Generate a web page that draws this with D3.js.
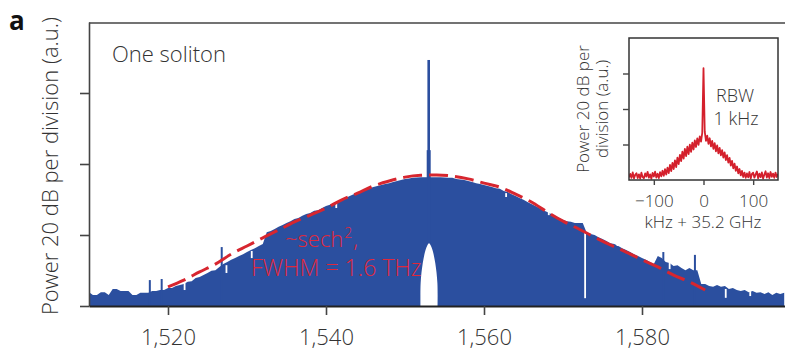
<!DOCTYPE html>
<html>
<head>
<meta charset="utf-8">
<script src="https://cdn.jsdelivr.net/npm/d3@7"></script>
<style>
  body { margin: 0; background: #fff; }
  svg { display: block; }
  text { font-family: "Open Sans", "DejaVu Sans", sans-serif; font-weight: 300; }
</style>
</head>
<body>
<svg id="chart" width="785" height="350"></svg>
<script>
// ---- Main optical spectrum (power in dB above the floor of the plot) ----
const spectrumStartNm = 1510;
const spectrumStepNm = 0.5;
const spectrumDb = [
  3.9, 3.1, 3.1, 3.9, 3.9, 3.1, 4.8, 4.8, 4.2, 4.2,          // 1510 – 1514.5
  4.2, 3.1, 3.1, 3.7, 3.7, 3.7, 4.2, 4.2, 4.5, 4.5,          // 1515 – 1519.5
  5.1, 5.1, 5.6, 5.9, 6.2, 6.8, 7.0, 7.9, 8.2, 8.7,          // 1520 – 1524.5
  9.3, 9.9, 10.1, 11.0, 11.8, 12.4, 13.0, 13.5, 14.1, 14.6,  // 1525 – 1529.5
  15.2, 15.8, 16.3, 16.9, 17.5, 20.8, 21.1, 21.7, 22.3, 22.8,// 1530 – 1534.5
  23.4, 23.9, 24.5, 24.8, 25.4, 25.9, 26.2, 26.8, 27.0, 27.6,// 1535 – 1539.5
  28.2, 28.5, 29.0, 29.6, 30.1, 30.4, 31.0, 31.5, 31.8, 32.4,// 1540 – 1544.5
  32.7, 33.2, 33.5, 33.8, 34.1, 34.4, 34.6, 34.9, 35.2, 35.5,// 1545 – 1549.5
  35.8, 35.9, 36.1, 36.2, 36.3, 36.3, 36.3, 36.3, 36.3, 36.3,// 1550 – 1554.5
  36.2, 36.1, 36.1, 35.8, 35.6, 35.5, 35.2, 34.9, 34.6, 34.4,// 1555 – 1559.5
  34.1, 33.8, 33.5, 33.2, 33.0, 32.4, 32.1, 31.5, 31.0, 30.4,// 1560 – 1564.5
  29.9, 29.3, 28.7, 28.2, 27.6, 27.0, 26.5, 25.9, 25.4, 24.8,// 1565 – 1569.5
  24.2, 23.9, 23.7, 23.4, 23.4, 23.4, 20.6, 20.3, 20.0, 19.4,// 1570 – 1574.5
  18.9, 18.3, 17.7, 17.5, 16.9, 16.3, 15.8, 15.2, 14.6, 14.1,// 1575 – 1579.5
  13.5, 13.0, 12.4, 11.8, 14.1, 13.5, 12.4, 12.1, 11.3, 11.5,// 1580 – 1584.5
  10.7, 10.1, 10.7, 10.1, 10.1, 6.2, 6.2, 5.6, 5.4, 5.9,     // 1585 – 1589.5
  5.4, 5.6, 4.8, 5.1, 4.5, 4.2, 4.5, 3.9, 4.2, 3.7,          // 1590 – 1594.5
  3.9, 3.4, 3.9, 3.1, 3.7, 3.4, 3.7                          // 1595 – 1598
];

// Narrow comb-line spurs standing above the envelope: [wavelength nm, dB]
const spurs = [
  [1517.7, 7.3], [1519.2, 7.6], [1526.8, 16.6], [1582.7, 15.2], [1586.7, 14.4]
];
// Pump line
const pumpNm = 1553.0;
const pumpDb = 69.3;
const pumpBaseDb = 43.9;

// Gaps in the comb: [wavelength nm, upper dB, lower dB]
const gaps = [
  [1572.8, 20.8, 2.2], [1541.3, 29.3, 27.6], [1562.8, 31.8, 30.7],
  [1568.2, 26.8, 25.6], [1576.9, 18.3, 16.9], [1583.5, 12.4, 10.4],
  [1590.6, 4.8, 2.3], [1593.7, 4.2, 2.8], [1522.1, 7.9, 4.5],
  [1527.4, 11.5, 9.3], [1530.6, 15.5, 13.5]
];

// Pump-suppression filter notch: [wavelength nm, dB]
const notch = [
  [1551.96, 0], [1551.98, 6.5], [1552.25, 12.1], [1552.6, 15.8], [1552.85, 17.2],
  [1553.04, 17.7], [1553.23, 17.2], [1553.48, 15.8], [1553.83, 12.1], [1554.1, 6.5], [1554.12, 0]
];

// sech^2 envelope fit: [wavelength nm, dB]
const fitNm = [1520, 1522, 1524, 1526, 1528, 1530, 1532, 1534, 1536, 1538, 1540, 1542,
  1544, 1546, 1548, 1550, 1552, 1554, 1556, 1558, 1560, 1562, 1564, 1566, 1568, 1570,
  1572, 1574, 1576, 1578, 1580, 1582, 1584, 1586, 1588];
const fitDb = [5.4, 7.3, 9.6, 11.8, 14.6, 16.9, 19.2, 21.4, 23.7, 25.6, 27.6, 29.9,
  31.8, 33.8, 35.2, 36.3, 36.8, 36.9, 36.6, 35.8, 34.6, 33.5, 31.5, 29.3, 26.5, 23.9,
  21.7, 19.4, 17.2, 15.2, 13.0, 11.0, 8.7, 6.8, 4.5];

const xTicks = [1520, 1540, 1560, 1580];
const yTicksDb = [0, 20, 40, 60];

// ---- Inset: repetition-rate beat note ----
const insetStartKhz = -150;
const insetStepKhz = 2.5;
const insetDb = [
  1.5, 3.4, 1.2, 4.3, 0.9, 2.9, 3.8, 1.1, 3.2, 0.8,     // -150 … -127.5
  4.1, 1.6, 1.0, 3.7, 1.9, 4.6, 1.3, 3.2, 0.7, 4.0,     // -125 … -102.5
  2.0, 4.7, 1.4, 3.5, 1.1, 4.4, 2.1, 5.2, 2.4, 6.1,     // -100 … -77.5
  3.1, 7.0, 3.9, 8.5, 5.0, 9.7, 6.2, 11.1, 7.3, 12.6,   // -75 … -52.5
  9.0, 14.2, 10.6, 16.0, 12.1, 17.5, 13.4, 18.8, 14.6, 19.9, // -50 … -27.5
  15.9, 21.1, 17.2, 22.3, 18.6, 23.4, 19.8, 24.6, 21.6, 26.6, // -25 … -2.5
  63.0,                                                  // 0
  27.2, 22.1, 25.0, 20.4, 23.5, 18.9, 22.0, 17.5, 20.8, 16.2, // 2.5 … 25
  19.5, 15.0, 18.1, 13.9, 16.8, 12.6, 15.6, 11.2, 14.0, 9.8,  // 27.5 … 50
  12.4, 8.1, 10.8, 6.6, 9.2, 5.2, 7.6, 3.8, 6.2, 2.6,   // 52.5 … 75
  5.1, 1.7, 4.2, 1.2, 3.7, 1.5, 4.5, 0.9, 3.4, 4.1,     // 77.5 … 100
  1.3, 3.2, 4.8, 1.0, 3.6, 1.6, 4.3, 0.8, 3.0, 4.9,     // 102.5 … 125
  1.4, 3.8, 1.1, 4.5, 1.8, 3.6, 1.2, 4.2, 1.7, 3.4      // 127.5 … 150
];
const insetXTicks = [-100, 0, 100];
const insetYTicksDb = [20, 40, 60];

// ---------------------------------------------------------------
const BLUE = "#2b4f9f";
const RED = "#d7262f";
const TEXT = "#333";
const AXIS = "#444";

const svg = d3.select("#chart");

const x = d3.scaleLinear().domain([1510, 1600]).range([89, 800]);
const y = d3.scaleLinear().domain([0, 80]).range([306, 22]);

const spectrum = spectrumDb.map((v, i) => [spectrumStartNm + i * spectrumStepNm, v]);

svg.append("defs").append("clipPath").attr("id", "mainClip")
  .append("rect").attr("x", 89).attr("y", 22).attr("width", 700).attr("height", 284);

const plot = svg.append("g").attr("clip-path", "url(#mainClip)");

// Filled comb spectrum
plot.append("path")
  .datum(spectrum)
  .attr("fill", BLUE)
  .attr("d", d3.area().x(d => x(d[0])).y0(y(0)).y1(d => y(d[1])));

// Spurs
plot.selectAll("rect.spur").data(spurs).join("rect")
  .attr("class", "spur")
  .attr("x", d => x(d[0]) - 1).attr("width", 2)
  .attr("y", d => y(d[1])).attr("height", d => y(0) - y(d[1]))
  .attr("fill", BLUE);

// Pump line and its broadened base
plot.append("rect")
  .attr("x", x(pumpNm) - 2).attr("width", 4)
  .attr("y", y(pumpBaseDb)).attr("height", y(0) - y(pumpBaseDb))
  .attr("fill", BLUE);
plot.append("rect")
  .attr("x", x(pumpNm) - 1.3).attr("width", 2.6)
  .attr("y", y(pumpDb)).attr("height", y(0) - y(pumpDb))
  .attr("fill", BLUE);

// Gaps between comb groups
plot.selectAll("rect.gap").data(gaps).join("rect")
  .attr("class", "gap")
  .attr("x", d => x(d[0]) - 0.9).attr("width", 1.8)
  .attr("y", d => y(d[1])).attr("height", d => y(d[2]) - y(d[1]))
  .attr("fill", "#fff");

// Filter notch at the pump
plot.append("path")
  .datum(notch)
  .attr("fill", "#fff")
  .attr("d", d3.line().x(d => x(d[0])).y(d => y(d[1])).curve(d3.curveCatmullRom));

// sech^2 fit
const fit = fitNm.map((n, i) => [n, fitDb[i]]);
plot.append("path")
  .datum(fit)
  .attr("fill", "none")
  .attr("stroke", RED)
  .attr("stroke-width", 3)
  .attr("stroke-dasharray", "19,7")
  .attr("d", d3.line().x(d => x(d[0])).y(d => y(d[1])).curve(d3.curveMonotoneX));

// Axes
const yAxis = svg.append("g")
  .attr("transform", `translate(${x(1510)},0)`)
  .call(d3.axisLeft(y).tickValues(yTicksDb).tickFormat("").tickSize(9).tickSizeOuter(0));
yAxis.select(".domain").attr("stroke", AXIS).attr("stroke-width", 1.6);
yAxis.selectAll(".tick line").attr("stroke", AXIS).attr("stroke-width", 1.6);

const xAxis = svg.append("g")
  .attr("transform", `translate(0,${y(0)})`)
  .call(d3.axisBottom(x).tickValues(xTicks).tickFormat(d3.format(",")).tickSize(9).tickSizeOuter(0).tickPadding(14));
xAxis.select(".domain").attr("stroke", "#222").attr("stroke-width", 2.2);
xAxis.selectAll(".tick line").attr("stroke", AXIS).attr("stroke-width", 1.6);
xAxis.selectAll(".tick text")
  .attr("font-family", "'Open Sans', sans-serif")
  .attr("font-size", 22).attr("fill", TEXT);

// Top frame
svg.append("line")
  .attr("x1", x(1510)).attr("x2", 785).attr("y1", 23).attr("y2", 23)
  .attr("stroke", AXIS).attr("stroke-width", 1.6);

// Axis title
svg.append("text")
  .attr("transform", "translate(58,166) rotate(-90)")
  .attr("text-anchor", "middle")
  .attr("font-size", 22).attr("fill", TEXT)
  .text("Power 20 dB per division (a.u.)");

// Panel letter
svg.append("text")
  .attr("x", 9).attr("y", 30)
  .attr("font-size", 26).style("font-weight", 700).attr("fill", "#111")
  .text("a");

svg.append("text")
  .attr("x", 112).attr("y", 62)
  .attr("font-size", 22).attr("fill", TEXT)
  .text("One soliton");

// Fit annotation: "~sech", superscript 2 and comma set as separate runs
const annColor = "#e0283c";
const sechText = svg.append("text")
  .attr("x", 285).attr("y", 247)
  .attr("font-size", 22).attr("fill", annColor)
  .text("~sech");
const sechEnd = 285 + sechText.node().getComputedTextLength();
const supText = svg.append("text")
  .attr("x", sechEnd + 1).attr("y", 238)
  .attr("font-size", 14).attr("fill", annColor)
  .text("2");
svg.append("text")
  .attr("x", sechEnd + 2 + supText.node().getComputedTextLength()).attr("y", 247)
  .attr("font-size", 22).attr("fill", annColor)
  .text(",");

svg.append("text")
  .attr("x", 251).attr("y", 276)
  .attr("font-size", 23).attr("fill", annColor)
  .text("FWHM = 1.6 THz");

// ---- Inset ----
const ix = d3.scaleLinear().domain([-150, 150]).range([629, 778]);
const iy = d3.scaleLinear().domain([0, 80]).range([180, 38]);
const inset = insetDb.map((v, i) => [insetStartKhz + i * insetStepKhz, v]);

svg.select("defs").append("clipPath").attr("id", "insetClip")
  .append("rect").attr("x", 629).attr("y", 38).attr("width", 149).attr("height", 142);

svg.append("g").attr("clip-path", "url(#insetClip)")
  .append("path")
  .datum(inset)
  .attr("fill", "none")
  .attr("stroke", "#d4202c")
  .attr("stroke-width", 1.8)
  .attr("stroke-linejoin", "round")
  .attr("d", d3.line().x(d => ix(d[0])).y(d => iy(d[1])));

svg.append("rect")
  .attr("x", 629).attr("y", 38).attr("width", 149).attr("height", 142)
  .attr("fill", "none").attr("stroke", "#333").attr("stroke-width", 1.5);

const iyAxis = svg.append("g")
  .attr("transform", "translate(629,0)")
  .call(d3.axisLeft(iy).tickValues(insetYTicksDb).tickFormat("").tickSize(6).tickSizeOuter(0));
iyAxis.select(".domain").remove();
iyAxis.selectAll(".tick line").attr("stroke", AXIS).attr("stroke-width", 1.4);

const ixAxis = svg.append("g")
  .attr("transform", "translate(0,180)")
  .call(d3.axisBottom(ix).tickValues(insetXTicks).tickFormat(d => d < 0 ? "\u2212" + Math.abs(d) : d)
    .tickSize(5).tickSizeOuter(0).tickPadding(10));
ixAxis.select(".domain").remove();
ixAxis.selectAll(".tick line").attr("stroke", AXIS).attr("stroke-width", 1.4);
ixAxis.selectAll(".tick text")
  .attr("font-family", "'Open Sans', sans-serif")
  .attr("font-size", 17).attr("fill", TEXT);

svg.append("text")
  .attr("x", 703).attr("y", 228).attr("text-anchor", "middle")
  .attr("font-size", 17).attr("fill", TEXT)
  .text("kHz + 35.2 GHz");

svg.append("text")
  .attr("transform", "translate(589,109) rotate(-90)")
  .attr("text-anchor", "middle")
  .attr("font-size", 17).attr("fill", TEXT)
  .text("Power 20 dB per");
svg.append("text")
  .attr("transform", "translate(608,109) rotate(-90)")
  .attr("text-anchor", "middle")
  .attr("font-size", 17).attr("fill", TEXT)
  .text("division (a.u.)");

svg.append("text")
  .attr("x", 735).attr("y", 102).attr("text-anchor", "middle")
  .attr("font-size", 18).attr("fill", TEXT)
  .text("RBW");
svg.append("text")
  .attr("x", 736).attr("y", 125).attr("text-anchor", "middle")
  .attr("font-size", 18).attr("fill", TEXT)
  .text("1 kHz");
</script>
</body>
</html>
